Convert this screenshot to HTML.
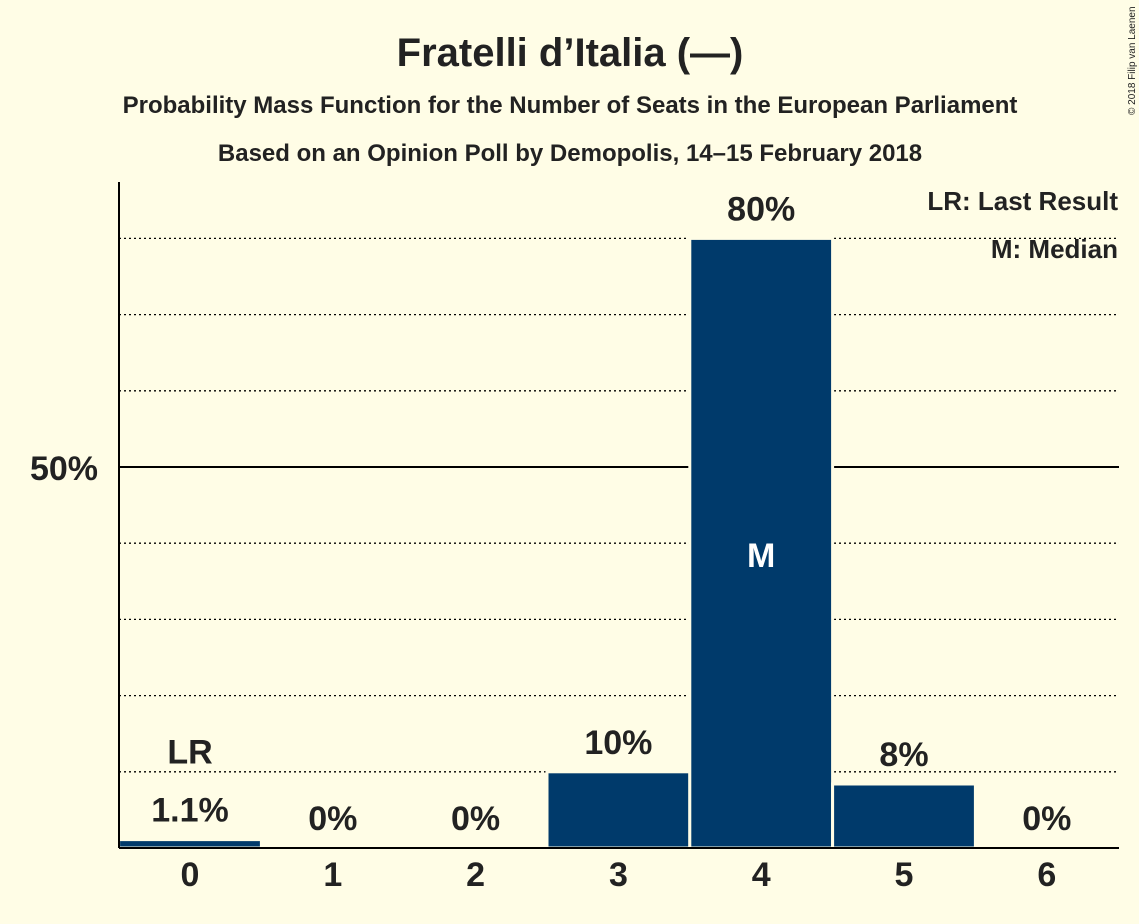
<!DOCTYPE html>
<html><head><meta charset="utf-8"><style>
body{margin:0;background:#fffde6;}
svg{display:block;font-family:"Liberation Sans",sans-serif;}
</style></head><body>
<svg width="1139" height="924" viewBox="0 0 1139 924">
<rect width="1139" height="924" fill="#fffde6"/>
<text x="570" y="66" text-anchor="middle" font-size="40" font-weight="bold" fill="#222">Fratelli d’Italia (—)</text>
<text x="570" y="113" text-anchor="middle" font-size="24" font-weight="bold" fill="#222">Probability Mass Function for the Number of Seats in the European Parliament</text>
<text x="570" y="161" text-anchor="middle" font-size="24" font-weight="bold" fill="#222">Based on an Opinion Poll by Demopolis, 14–15 February 2018</text>
<text x="1135" y="115" font-size="10" fill="#222" transform="rotate(-90 1135 115)">© 2018 Filip van Laenen</text>
<g id="grid"></g>
<g id="bars"></g>
<line x1="119" y1="182" x2="119" y2="848" stroke="#000" stroke-width="2"/>
<line x1="119" y1="848" x2="1119" y2="848" stroke="#000" stroke-width="2"/>
<text x="98" y="480" text-anchor="end" font-size="34" font-weight="bold" fill="#222">50%</text>
<g id="labels"></g>
<text x="1118" y="210" text-anchor="end" font-size="26" font-weight="bold" fill="#222">LR: Last Result</text>
<text x="1118" y="258" text-anchor="end" font-size="26" font-weight="bold" fill="#222">M: Median</text>
</svg>
<script>
const categories=["0","1","2","3","4","5","6"];
const values=[1.1,0,0,10,80,8.4,0];
const valueLabels=["1.1%","0%","0%","10%","80%","8%","0%"];
const gridTicks=[10,20,30,40,50,60,70,80];
const lastResult=0, median=4;
const NS="http://www.w3.org/2000/svg";
const y=v=>848-v*7.62;
const cx=i=>190+142.8*i;
function mk(t,a,p){const e=document.createElementNS(NS,t);for(const k in a)e.setAttribute(k,a[k]);p.appendChild(e);return e;}
const g=document.getElementById('grid');
gridTicks.forEach(t=>{
 const l=mk('line',{x1:119,x2:1119,y1:y(t),y2:y(t),stroke:'#000','stroke-width':t==50?2:1.3,'stroke-dasharray':t==50?'':'2,3'},g);
 
 
});
const b=document.getElementById('bars'),L=document.getElementById('labels');
categories.forEach((c,i)=>{
 const v=values[i];
 if(v>0){
  const r=mk('rect',{x:cx(i)-71.4,y:y(v),width:142.8,height:848-y(v),fill:'#003a6b',stroke:'#fffde6','stroke-width':3},b);
  
  
 }
 const t=mk('text',{x:cx(i),y:y(v)-18,'text-anchor':'middle','font-size':34,'font-weight':'bold',fill:'#222'},L);
 t.textContent=valueLabels[i];
 
 
 const xt=mk('text',{x:cx(i),y:886,'text-anchor':'middle','font-size':34,'font-weight':'bold',fill:'#222'},L);
 xt.textContent=c;
 
 
 if(i==lastResult){
  const lr=mk('text',{x:cx(i),y:y(v)-76,'text-anchor':'middle','font-size':34,'font-weight':'bold',fill:'#222'},L);
  lr.textContent='LR';
  
  
 }
 if(i==median){
  const m=mk('text',{x:cx(i),y:y(v/2)+24,'text-anchor':'middle','font-size':34,'font-weight':'bold',fill:'#fff'},L);
  m.textContent='M';
  
  
 }
});
</script>
</body></html>
